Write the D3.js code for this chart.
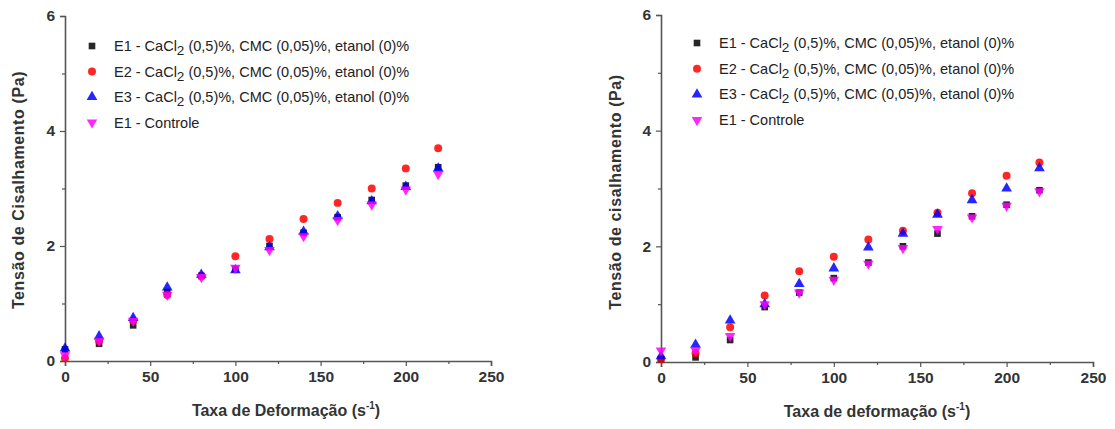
<!DOCTYPE html>
<html><head><meta charset="utf-8">
<script src="https://cdn.jsdelivr.net/npm/d3@7"></script>
<style>body{margin:0;background:#fff}svg{display:block}</style>
</head><body>
<script>
const shearRate = [0, 20, 40, 60, 80, 100, 120, 140, 160, 180, 200, 219];
const seriesNames = ["E1", "E2", "E3", "Controle"];
const legendLabels = ["E1 - CaCl|2| (0,5)%, CMC (0,05)%, etanol (0)%", "E2 - CaCl|2| (0,5)%, CMC (0,05)%, etanol (0)%", "E3 - CaCl|2| (0,5)%, CMC (0,05)%, etanol (0)%", "E1 - Controle"];
const leftE1 = [0.2, 0.3, 0.62, 1.2, 1.48, 1.6, 2.0, 2.23, 2.5, 2.8, 3.05, 3.37];
const leftE2 = [0.05, 0.35, 0.7, 1.15, 1.48, 1.82, 2.12, 2.47, 2.75, 3.0, 3.35, 3.7];
const leftE3 = [0.22, 0.43, 0.75, 1.28, 1.5, 1.58, 1.98, 2.25, 2.52, 2.78, 3.03, 3.35];
const leftCtrl = [0.1, 0.35, 0.7, 1.15, 1.46, 1.62, 1.93, 2.17, 2.45, 2.72, 2.98, 3.25];
const rightE1 = [0.05, 0.08, 0.38, 0.95, 1.2, 1.45, 1.72, 2.0, 2.22, 2.52, 2.72, 2.97];
const rightE2 = [0.05, 0.15, 0.6, 1.15, 1.57, 1.82, 2.12, 2.27, 2.58, 2.92, 3.22, 3.45];
const rightE3 = [0.1, 0.3, 0.72, 1.0, 1.35, 1.62, 1.98, 2.22, 2.55, 2.8, 3.0, 3.35];
const rightCtrl = [0.2, 0.2, 0.45, 1.0, 1.2, 1.42, 1.7, 1.97, 2.3, 2.5, 2.7, 2.95];
const xTicks = [0, 50, 100, 150, 200, 250];
const yTicks = [0, 2, 4, 6];
const colors = ["#000000", "#ff0000", "#0000ff", "#ff00ff"];
const shapes = [d3.symbolSquare, d3.symbolCircle, d3.symbolTriangle, "down"];

const W = 1115, H = 429;
const FONT = "Liberation Sans, Arial, sans-serif";
const svg = d3.select("body").append("svg").attr("width", W).attr("height", H);

function marker(g, i, x, y) {
  if (shapes[i] === "down") {
    g.append("path").attr("d", d3.symbol().type(d3.symbolTriangle).size(48)())
      .attr("transform", `translate(${x},${y}) rotate(180)`).attr("fill", colors[i]).attr("opacity", 0.85);
  } else {
    const sz = shapes[i] === d3.symbolSquare ? 44 : 50;
    g.append("path").attr("d", d3.symbol().type(shapes[i]).size(sz)())
      .attr("transform", `translate(${x},${y})`).attr("fill", colors[i]).attr("opacity", 0.85);
  }
}

function panel(cfg) {
  const x = d3.scaleLinear().domain([0, 250]).range([cfg.x0, cfg.x1]);
  const y = d3.scaleLinear().domain([0, 6]).range([cfg.y0, cfg.y1]);
  const g = svg.append("g");
  const axisColor = "#555";
  g.append("g").attr("transform", `translate(0,${cfg.y0})`)
    .call(d3.axisBottom(x).tickValues(xTicks).tickSize(5).tickPadding(5).tickFormat(d3.format("d")));
  g.append("g").attr("transform", `translate(0,${cfg.y0})`)
    .call(d3.axisBottom(x).tickValues([25, 75, 125, 175, 225]).tickSize(3).tickFormat(""))
    .call(s => s.select(".domain").remove());
  g.append("g").attr("transform", `translate(${cfg.x0},0)`)
    .call(d3.axisLeft(y).tickValues(yTicks).tickSize(5).tickPadding(5).tickFormat(d3.format("d")));
  g.append("g").attr("transform", `translate(${cfg.x0},0)`)
    .call(d3.axisLeft(y).tickValues([1, 3, 5]).tickSize(3).tickFormat(""))
    .call(s => s.select(".domain").remove());
  g.selectAll(".domain").attr("stroke", axisColor).attr("stroke-width", 1.6);
  g.selectAll(".tick line").attr("stroke", axisColor).attr("stroke-width", 1.2);
  g.selectAll(".tick text").attr("font-family", FONT)
    .attr("font-weight", "bold").attr("font-size", 15.5).attr("fill", "#333");

  const pts = g.append("g");
  cfg.data.forEach((vals, i) => {
    vals.forEach((v, j) => marker(pts, i, x(shearRate[j]), y(v)));
  });

  const lg = g.append("g");
  legendLabels.forEach((lab, i) => {
    const ly = cfg.legY + i * cfg.legDy;
    marker(lg, i, cfg.legX, ly);
    const parts = lab.split("|");
    const t = lg.append("text").attr("x", cfg.legX + 22).attr("y", ly + 5)
      .attr("font-family", FONT).attr("font-size", 14.5).attr("fill", "#222");
    t.append("tspan").text(parts[0]);
    if (parts.length > 1) {
      t.append("tspan").attr("dy", 4).attr("font-size", 13.5).text(parts[1]);
      t.append("tspan").attr("dy", -4).text(parts[2]);
    }
  });

  const xt = g.append("text").attr("x", (cfg.x0 + cfg.x1) / 2 + cfg.xTitleDx).attr("y", cfg.y0 + 55)
    .attr("text-anchor", "middle").attr("font-family", FONT)
    .attr("font-weight", "bold").attr("font-size", 16).attr("fill", "#333");
  xt.append("tspan").text(cfg.xTitle + " (s");
  xt.append("tspan").attr("dy", -7).attr("font-size", 10).text("-1");
  xt.append("tspan").attr("dy", 7).text(")");
  g.append("text").attr("transform", `translate(${cfg.yTitleX},${cfg.yTitleY}) rotate(-90)`)
    .attr("text-anchor", "middle").attr("font-family", FONT).attr("letter-spacing", 0.6)
    .attr("font-weight", "bold").attr("font-size", 16).attr("fill", "#333").text(cfg.yTitle);
}

panel({x0: 65, x1: 491, y0: 361, y1: 16, data: [leftE1, leftE2, leftE3, leftCtrl],
  legX: 92, legY: 46, legDy: 25.5, xTitle: "Taxa de Deformação", xTitleDx: 8,
  yTitle: "Tensão de Cisalhamento (Pa)", yTitleX: 24, yTitleY: 190});
panel({x0: 661, x1: 1093, y0: 362, y1: 15, data: [rightE1, rightE2, rightE3, rightCtrl],
  legX: 697, legY: 43, legDy: 25.7, xTitle: "Taxa de deformação", xTitleDx: 0,
  yTitle: "Tensão de cisalhamento (Pa)", yTitleX: 621, yTitleY: 192});
</script>
</body></html>
